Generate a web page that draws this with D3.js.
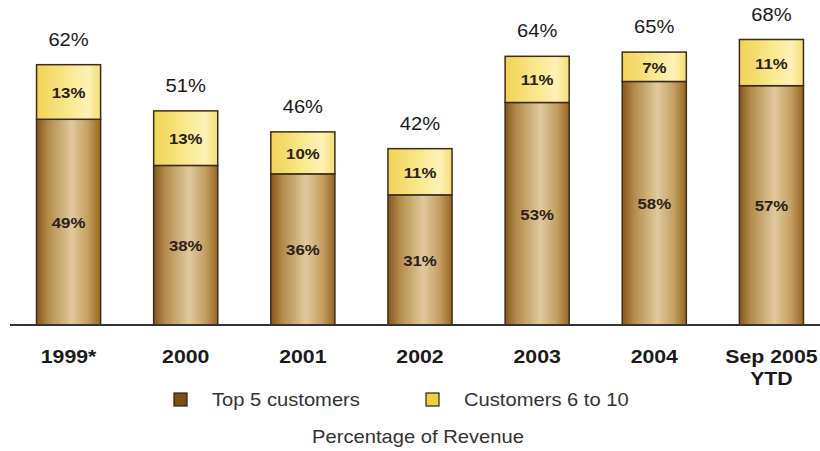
<!DOCTYPE html>
<html>
<head>
<meta charset="utf-8">
<script src="https://cdn.jsdelivr.net/npm/d3@7"></script>
<style>
  body { margin: 0; background: #fff; }
  text { font-family: "Liberation Sans", Arial, sans-serif; }
</style>
</head>
<body>
<div id="chart"></div>
<script>
var categories = ["1999*", "2000", "2001", "2002", "2003", "2004", "Sep 2005|YTD"];
var top5 = [49, 38, 36, 31, 53, 58, 57];
var next5 = [13, 13, 10, 11, 11, 7, 11];
var totals = [62, 51, 46, 42, 64, 65, 68];
var seriesNames = ["Top 5 customers", "Customers 6 to 10"];
var axisTitle = "Percentage of Revenue";

var w = 820, h = 451;
var baseY = 325;
var stretch = 1.12; // source picture is a bit wide

var svg = d3.select("#chart").append("svg")
  .attr("width", w)
  .attr("height", h);

// text helper, keeps the horizontal stretch of the original
function label(px, py, str, size, weight, fill, anchor) {
  return svg.append("text")
    .attr("transform", "translate(" + px + "," + py + ") scale(" + stretch + ",1)")
    .attr("text-anchor", anchor || "middle")
    .attr("font-size", size)
    .attr("font-weight", weight || "normal")
    .attr("fill", fill || "#1a1a1a")
    .text(str);
}

// gradients
var defs = svg.append("defs");
var gb = defs.append("linearGradient").attr("id", "brown").attr("x1", 0).attr("x2", 1);
[[0, "#85561a"], [0.18, "#b38b4a"], [0.55, "#e0c99e"], [0.8, "#c6a064"], [1, "#98661f"]].forEach(function(s) {
  gb.append("stop").attr("offset", s[0]).attr("stop-color", s[1]);
});
var gy = defs.append("linearGradient").attr("id", "yellow").attr("x1", 0).attr("x2", 1);
[[0, "#f1d256"], [0.5, "#fae88c"], [0.8, "#fdf1b8"], [1, "#f5dd74"]].forEach(function(s) {
  gy.append("stop").attr("offset", s[0]).attr("stop-color", s[1]);
});

var x = d3.scaleBand()
  .domain(categories)
  .range([10, 830])
  .paddingInner(0.453)
  .paddingOuter(0.2265);

var y = d3.scaleLinear()
  .domain([0, 68])
  .range([baseY, 39.5]);

var g = svg.append("g");

categories.forEach(function(c, i) {
  var bx = x(c), bw = x.bandwidth();
  // top 5
  g.append("rect")
    .attr("x", bx).attr("y", y(top5[i]))
    .attr("width", bw).attr("height", baseY - y(top5[i]))
    .attr("fill", "url(#brown)")
    .attr("stroke", "#3b2c1c").attr("stroke-width", 1.5);
  // 6 to 10
  g.append("rect")
    .attr("x", bx).attr("y", y(top5[i] + next5[i]))
    .attr("width", bw).attr("height", y(top5[i]) - y(top5[i] + next5[i]))
    .attr("fill", "url(#yellow)")
    .attr("stroke", "#3b2c1c").attr("stroke-width", 1.5);

  label(bx + bw / 2, (y(top5[i]) + baseY) / 2 + 6, top5[i] + "%", 15, "bold", "#2a2218");
  label(bx + bw / 2, (y(top5[i]) + y(top5[i] + next5[i])) / 2 + 6, next5[i] + "%", 15, "bold", "#2a2218");
  label(bx + bw / 2, y(totals[i]) - 19, totals[i] + "%", 18, "normal", "#1a1a1a");
});

// axis
var xAxis = d3.axisBottom(x).tickSize(0).tickFormat("");
var ax = svg.append("g")
  .attr("transform", "translate(0," + baseY + ")")
  .call(xAxis);
ax.select(".domain").attr("d", "M10,0H820").attr("stroke", "#333").attr("stroke-width", 2);

categories.forEach(function(c) {
  c.split("|").forEach(function(l, j) {
    label(x(c) + x.bandwidth() / 2, 363 + j * 22, l, 19, "bold", "#1a1a1a");
  });
});

// legend
var legendX = [174, 426];
var swatchFills = ["#7a5210", "#f0d040"];
seriesNames.forEach(function(n, i) {
  svg.append("rect")
    .attr("x", legendX[i]).attr("y", 393)
    .attr("width", 13).attr("height", 13)
    .attr("fill", swatchFills[i])
    .attr("stroke", "#2a2218").attr("stroke-width", 1.2);
  label(legendX[i] + 38, 406, n, 18, "normal", "#333", "start");
});

label(418, 443, axisTitle, 18, "normal", "#333");
</script>
</body>
</html>
